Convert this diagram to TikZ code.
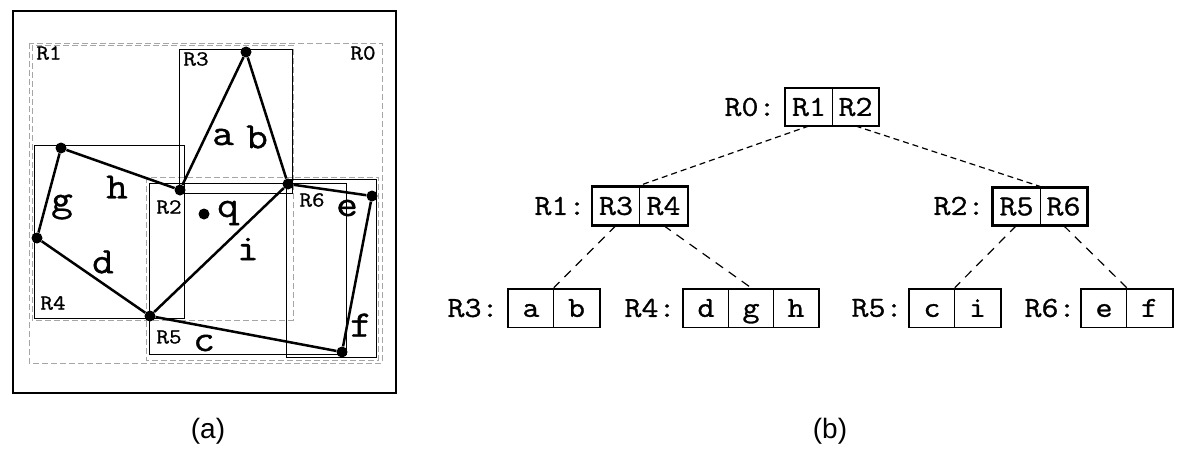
\documentclass[tikz,border=0pt]{standalone}
\usepackage{fontspec}
\usetikzlibrary{fit}
\newfontfamily\courf{Latin Modern Mono}[FakeStretch=1.14,FakeBold=1]
\newfontfamily\capf{Liberation Sans}
\tikzset{
  frame/.style={line width=2.6pt},
  grayrect/.style={draw=black!35,line width=0.9pt,dash pattern=on 6pt off 3pt},
  thinrect/.style={draw=black,line width=0.9pt},
  edge/.style={line width=2.5pt},
  dot/.style={circle,fill=black,inner sep=0pt,minimum size=11pt},
  big/.style={inner sep=0pt,font=\courf\fontsize{37}{37}\selectfont},
  rlab/.style={inner sep=0pt,font=\courf\fontsize{21.5}{21.5}\selectfont},
  tlab/.style={inner sep=0pt,font=\courf\fontsize{29}{29}\selectfont},
  cell/.style={draw,line width=0.9pt,inner sep=0pt,minimum height=37pt,text height=22pt,text depth=4.3pt,font=\courf\fontsize{29}{29}\selectfont},
  outer/.style={draw,line width=2.3pt,inner sep=0pt},
  updash/.style={line width=1.2pt,dash pattern=on 6pt off 4pt},
  lodash/.style={line width=1.2pt,dash pattern=on 9pt off 7pt},
  capt/.style={inner sep=0pt,font=\capf\fontsize{28}{28}\selectfont},
}
\begin{document}
\begin{tikzpicture}[x=1pt,y=-1pt]
\useasboundingbox[fill=white] (0,0) rectangle (1183,452);
% ---------- panel (a) ----------
\draw[frame] (13,11) rectangle (396,393);
\draw[grayrect] (29,43) rectangle (382,363);
\draw[grayrect] (32,45) rectangle (293,320);
\draw[grayrect] (146,177) rectangle (378,360);
\draw[thinrect] (179,49) rectangle (292,193);
\draw[thinrect] (34,145) rectangle (184,318);
\draw[thinrect] (149,183) rectangle (346,354);
\draw[thinrect] (286,179) rectangle (376,357);
% points
\node[dot] (ptop) at (246,52) {};
\node[dot] (pr2) at (180,190) {};
\node[dot] (pb) at (288,184) {};
\node[dot] (pe) at (372,196) {};
\node[dot] (pgh) at (61,148) {};
\node[dot] (pgd) at (37,238) {};
\node[dot] (pd) at (150,316) {};
\node[dot] (pf) at (342,352) {};
\node[dot] (pq) at (204,214) {};
% edges
\draw[edge] (ptop) -- (pr2);
\draw[edge] (ptop) -- (pb);
\draw[edge] (pgh) -- (pr2);
\draw[edge] (pgh) -- (pgd);
\draw[edge] (pgd) -- (pd);
\draw[edge] (pd) -- (pb);
\draw[edge] (pd) -- (pf);
\draw[edge] (pb) -- (pe);
\draw[edge] (pe) -- (pf);
% big labels
\node[big] (la) at (223,137) {a};
\node[big] (lb) at (257,137) {b};
\node[big] (lh) at (117,187) {h};
\node[big] (lg) at (62,207) {g};
\node[big] (ld) at (103,262) {d};
\node[big] (lq) at (228,213) {q};
\node[big] (li) at (248,249) {i};
\node[big] (le) at (347,208) {e};
\node[big] (lf) at (361,325) {f};
\node[big] (lc) at (204,343) {c};
% region labels
\node[rlab] (n1) at (49,53) {R1};
\node[rlab] (n0) at (363,53) {R0};
\node[rlab] (n3) at (196,59) {R3};
\node[rlab] (n2) at (169,207) {R2};
\node[rlab] (n6) at (312,200) {R6};
\node[rlab] (n4) at (53,303) {R4};
\node[rlab] (n5) at (169,337) {R5};
\node[capt] (capa) at (208,431) {(a)};
% ---------- panel (b) ----------
% R0
\node[cell,minimum width=46.5pt] (r0a) at (809,107) {R1};
\node[cell,minimum width=46.5pt] (r0b) at (855.5,107) {R2};
\node[outer,fit=(r0a)(r0b)] (r0) {};
\node[tlab] (t0) at (750,107) {R0:};
% R1
\node[cell,minimum width=47.5pt,minimum height=38pt] (r1a) at (616,206) {R3};
\node[cell,minimum width=47.5pt,minimum height=38pt] (r1b) at (663.5,206) {R4};
\node[outer,fit=(r1a)(r1b)] (r1) {};
\node[tlab] (t1) at (560,206) {R1:};
% R2
\node[cell,minimum width=47pt,minimum height=37pt] (r2a) at (1016.5,206.5) {R5};
\node[cell,minimum width=47pt,minimum height=37pt] (r2b) at (1063.5,206.5) {R6};
\node[outer,fit=(r2a)(r2b)] (r2) {};
\node[tlab] (t2) at (959,206) {R2:};
% leaves
\node[cell,minimum width=45.5pt,minimum height=38pt] (r3a) at (531,308) {a};
\node[cell,minimum width=45.5pt,minimum height=38pt] (r3b) at (576.5,308) {b};
\node[outer,line width=1.7pt,fit=(r3a)(r3b)] (r3) {};
\node[tlab] (t3) at (473,308) {R3:};
\node[cell,minimum width=45pt,minimum height=38pt] (r4a) at (706,308) {d};
\node[cell,minimum width=45pt,minimum height=38pt] (r4b) at (751,308) {g};
\node[cell,minimum width=45pt,minimum height=38pt] (r4c) at (796,308) {h};
\node[outer,line width=1.7pt,fit=(r4a)(r4c)] (r4) {};
\node[tlab] (t4) at (650,308) {R4:};
\node[cell,minimum width=45.5pt,minimum height=38pt] (r5a) at (932,308) {c};
\node[cell,minimum width=45.5pt,minimum height=38pt] (r5b) at (977.5,308) {i};
\node[outer,line width=1.7pt,fit=(r5a)(r5b)] (r5) {};
\node[tlab] (t5) at (877,308) {R5:};
\node[cell,minimum width=45.5pt,minimum height=38pt] (r6a) at (1104,308) {e};
\node[cell,minimum width=45.5pt,minimum height=38pt] (r6b) at (1149.5,308) {f};
\node[outer,line width=1.7pt,fit=(r6a)(r6b)] (r6) {};
\node[tlab] (t6) at (1050,308) {R6:};
% connectors
\draw[updash] (r0a.south) -- (r1.north);
\draw[updash] (r0b.south) -- (r2.north);
\draw[lodash] (r1a.south) -- (r3.north);
\draw[lodash] (r1b.south) -- (r4.north);
\draw[lodash] (r2a.south) -- (r5.north);
\draw[lodash] (r2b.south) -- (r6.north);
\node[capt] (capb) at (830,431) {(b)};
\end{tikzpicture}
\end{document}
